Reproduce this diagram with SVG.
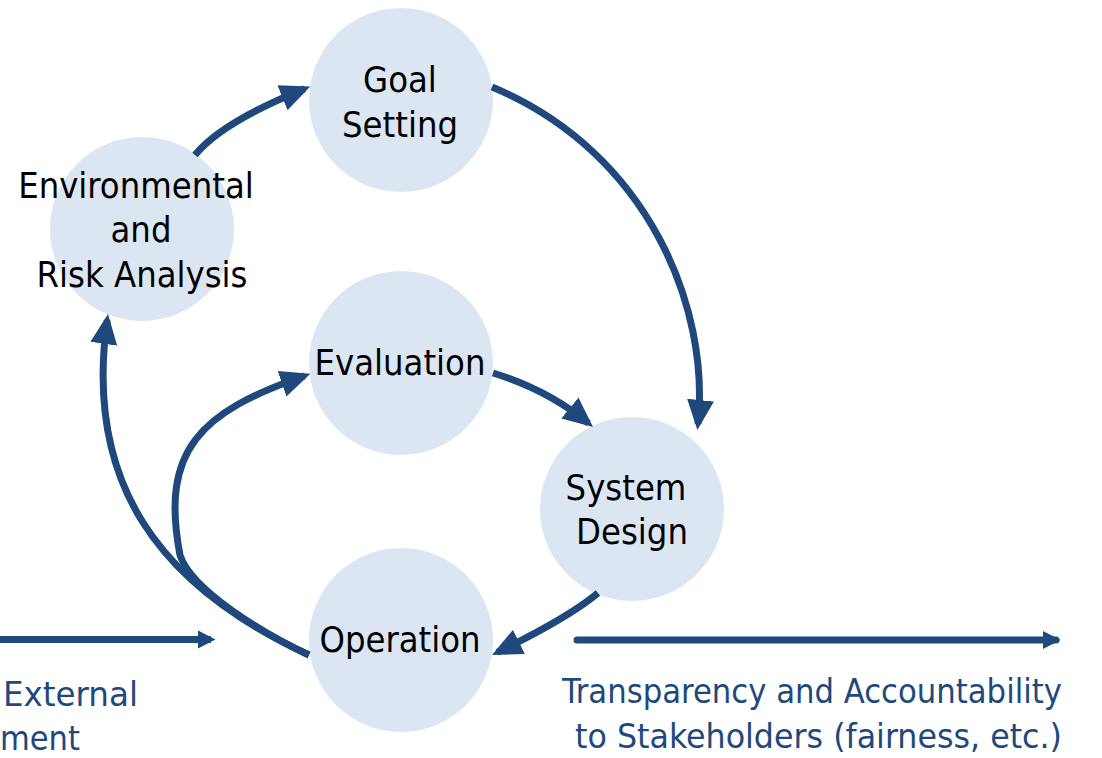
<svg xmlns="http://www.w3.org/2000/svg" width="1102" height="758" viewBox="0 0 1102 758">
  <style>
    .node circle { fill: #dce6f2; }
    .lbl { font-family: "DejaVu Sans Condensed", "DejaVu Sans", sans-serif; font-stretch: condensed; font-size: 36px; fill: #000000; text-anchor: middle; }
    .blue { font-family: "DejaVu Sans Condensed", "DejaVu Sans", sans-serif; font-stretch: condensed; font-size: 34px; fill: #1f497d; }
    .conn { fill: none; stroke: #1f497d; stroke-width: 7; }
  </style>
  <defs>
    <marker id="ah" markerUnits="userSpaceOnUse" markerWidth="32" markerHeight="30" viewBox="0 -15 32 30" refX="24" refY="0" orient="auto">
      <path d="M0,-13.5 L30,0 L0,13.5 z" fill="#1f497d"/>
    </marker>
    <marker id="ahs" markerUnits="userSpaceOnUse" markerWidth="20" markerHeight="20" viewBox="0 -10 20 20" refX="13" refY="0" orient="auto">
      <path d="M0,-9 L17.5,0 L0,9 z" fill="#1f497d"/>
    </marker>
  </defs>

  <g id="node-env" class="node">
    <circle cx="142" cy="229" r="92"/>
    <text class="lbl" x="136" y="198">Environmental</text>
    <text class="lbl" x="141" y="242">and</text>
    <text class="lbl" x="142" y="287">Risk Analysis</text>
  </g>
  <g id="node-goal" class="node">
    <circle cx="401" cy="100" r="92"/>
    <text class="lbl" x="400" y="92">Goal</text>
    <text class="lbl" x="400" y="137">Setting</text>
  </g>
  <g id="node-eval" class="node">
    <circle cx="401" cy="363" r="92"/>
    <text class="lbl" x="400" y="375">Evaluation</text>
  </g>
  <g id="node-sysdesign" class="node">
    <circle cx="632" cy="509" r="92"/>
    <text class="lbl" x="626" y="500">System</text>
    <text class="lbl" x="632" y="544">Design</text>
  </g>
  <g id="node-op" class="node">
    <circle cx="401" cy="640" r="92"/>
    <text class="lbl" x="400" y="652">Operation</text>
  </g>

  <g id="connectors">
    <path class="conn" d="M195,155 Q222,122 304.7,88.7" marker-end="url(#ah)"/>
    <path class="conn" d="M492,87 C650,153 710,310 698,424" marker-end="url(#ah)"/>
    <path class="conn" d="M493,373 Q548,390 588.4,423.2" marker-end="url(#ah)"/>
    <path class="conn" d="M598,593 Q568,618 497.4,652.3" marker-end="url(#ah)"/>
    <path class="conn" d="M309,655 C159,586 84,483 107.2,320" marker-end="url(#ah)"/>
    <path class="conn" d="M309,655 C264,634 191,590 180,555 C160,450 200,412 304.7,375.8" marker-end="url(#ah)"/>
    <path class="conn" d="M-5,639.5 L211,639.5" marker-end="url(#ahs)"/>
    <path class="conn" d="M577,640 L1056,640" stroke-linecap="round" marker-end="url(#ahs)"/>
  </g>

  <g id="labels">
    <text class="blue" x="3" y="706" textLength="135" lengthAdjust="spacingAndGlyphs">External</text>
    <text class="blue" x="80" y="750" text-anchor="end">ment</text>
    <text class="blue" x="562" y="703" textLength="500" lengthAdjust="spacingAndGlyphs">Transparency and Accountability</text>
    <text class="blue" x="575" y="748" textLength="487" lengthAdjust="spacingAndGlyphs">to Stakeholders (fairness, etc.)</text>
  </g>
</svg>
